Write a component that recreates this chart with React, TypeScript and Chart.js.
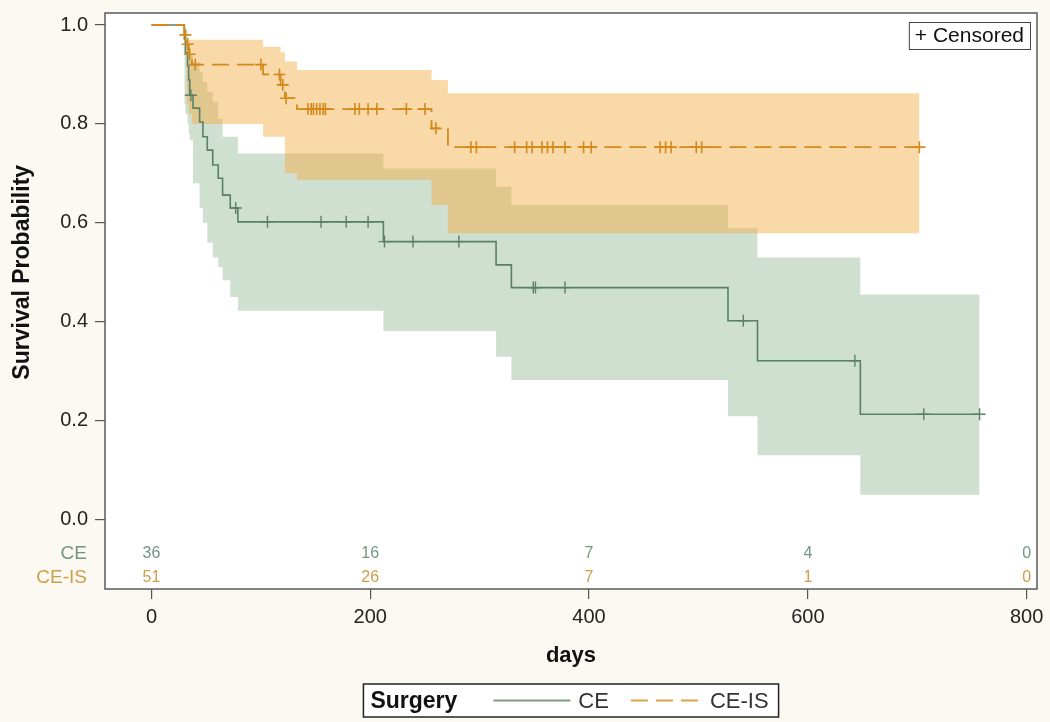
import React, { useEffect, useRef } from 'react';
import { Chart, registerables } from 'chart.js';

Chart.register(...registerables);

// ---------- data ----------
const ceTimes = [0, 30, 31, 33, 34, 35, 38, 44, 47, 51, 56, 61, 65, 72, 79, 212, 315, 329, 527, 554, 648, 757];
const ceSurvival = [1.0, 0.972, 0.944, 0.917, 0.889, 0.858, 0.832, 0.804, 0.774, 0.747, 0.717, 0.69, 0.656, 0.63, 0.602, 0.562, 0.515, 0.469, 0.402, 0.321, 0.213, 0.213];
const ceBandTimes = [30, 31, 33, 34, 35, 38, 44, 47, 51, 56, 61, 65, 72, 79, 212, 315, 329, 527, 554, 648, 757];
const ceUpper = [0.996, 0.99, 0.975, 0.96, 0.94, 0.925, 0.905, 0.885, 0.865, 0.845, 0.81, 0.774, 0.774, 0.74, 0.71, 0.673, 0.636, 0.589, 0.53, 0.455, 0.455];
const ceLower = [0.84, 0.82, 0.8, 0.78, 0.767, 0.68, 0.63, 0.6, 0.56, 0.53, 0.51, 0.484, 0.45, 0.422, 0.381, 0.329, 0.282, 0.209, 0.13, 0.05, 0.05];
const ceCensored = [36, 77, 106, 155, 178, 198, 213, 239, 281, 349, 351, 378, 541, 643, 706, 757];

const ceisTimes = [0, 30, 32, 34, 37, 102, 118, 122, 133, 256, 271, 702];
const ceisSurvival = [1.0, 0.98, 0.961, 0.941, 0.92, 0.9, 0.879, 0.852, 0.83, 0.791, 0.753, 0.753];
const ceisBandTimes = [32, 34, 37, 102, 118, 122, 133, 256, 271, 702];
const ceisUpper = [0.97, 0.97, 0.97, 0.956, 0.945, 0.926, 0.909, 0.889, 0.862, 0.862];
const ceisLower = [0.84, 0.82, 0.8, 0.774, 0.774, 0.7, 0.687, 0.636, 0.579, 0.579];
const ceisCensored = [31, 33, 35, 40, 100, 117, 120, 123, 143, 146, 148, 151, 154, 157, 159, 186, 190, 198, 206, 233, 250, 260, 292, 297, 332, 343, 348, 357, 362, 367, 378, 395, 402, 465, 470, 475, 498, 503, 702];

const riskTimes = [0, 200, 400, 600, 800];
const ceAtRisk = [36, 16, 7, 4, 0];
const ceisAtRisk = [51, 26, 7, 1, 0];

const xTicks = [0, 200, 400, 600, 800];
const yTicks = [0, 0.2, 0.4, 0.6, 0.8, 1.0];

const groupNames = ['CE', 'CE-IS'];
const legendTitle = 'Surgery';
const xTitle = 'days';
const yTitle = 'Survival Probability';
const censorLabel = '+ Censored';

// ---------- styles ----------
const BG = '#fcf9f2';
const FONT = '"Liberation Sans", Arial, sans-serif';
const CE_LINE = '#5b8066';
const CEIS_LINE = '#d4891c';
const CE_BAND = '#cfdfd0';
const CEIS_BAND = 'rgba(244,169,57,0.44)';
const CE_TEXT = '#72967f';
const CEIS_TEXT = '#cc9e48';

const pts = (xs: number[], ys: number[]) => xs.map((x, i) => ({ x, y: ys[i] }));
const survAt = (times: number[], surv: number[], t: number) => {
  let v = surv[0];
  for (let i = 0; i < times.length; i++) if (times[i] <= t) v = surv[i];
  return v;
};

const extras = {
  id: 'kmExtras',
  beforeDraw(chart: any) {
    const { ctx, chartArea: a, width, height } = chart;
    ctx.save();
    ctx.fillStyle = BG;
    ctx.fillRect(0, 0, width, height);
    ctx.fillStyle = '#ffffff';
    ctx.fillRect(a.left, a.top, a.right - a.left, a.bottom - a.top);
    ctx.restore();
  },
  afterDraw(chart: any) {
    const { ctx, chartArea: a } = chart;
    const xs = chart.scales.x;
    const ys = chart.scales.y;
    ctx.save();
    // frame
    ctx.strokeStyle = '#5a5a5a';
    ctx.lineWidth = 1.5;
    ctx.strokeRect(a.left, a.top, a.right - a.left, a.bottom - a.top);

    // at-risk table
    const row1 = a.bottom - 35;
    const row2 = a.bottom - 11;
    ctx.textBaseline = 'middle';
    ctx.font = `16px ${FONT}`;
    ctx.textAlign = 'center';
    riskTimes.forEach((t, i) => {
      const px = xs.getPixelForValue(t);
      ctx.fillStyle = CE_TEXT;
      ctx.fillText(String(ceAtRisk[i]), px, row1);
      ctx.fillStyle = CEIS_TEXT;
      ctx.fillText(String(ceisAtRisk[i]), px, row2);
    });
    ctx.font = `19px ${FONT}`;
    ctx.textAlign = 'right';
    ctx.fillStyle = CE_TEXT;
    ctx.fillText(groupNames[0], a.left - 18, row1);
    ctx.fillStyle = CEIS_TEXT;
    ctx.fillText(groupNames[1], a.left - 18, row2);

    // censored box
    ctx.font = `21px ${FONT}`;
    const cw = ctx.measureText(censorLabel).width + 12;
    const cx = a.right - 7 - cw;
    const cy = a.top + 9;
    ctx.fillStyle = '#ffffff';
    ctx.fillRect(cx, cy, cw, 27);
    ctx.strokeStyle = '#444';
    ctx.lineWidth = 1;
    ctx.strokeRect(cx + 0.5, cy + 0.5, cw, 27);
    ctx.fillStyle = '#111';
    ctx.textAlign = 'left';
    ctx.fillText(censorLabel, cx + 6, cy + 14.5);

    // axis titles
    ctx.font = `bold 22px ${FONT}`;
    ctx.fillStyle = '#111';
    ctx.textAlign = 'center';
    ctx.fillText(xTitle, (a.left + a.right) / 2, a.bottom + 67);
    ctx.save();
    ctx.font = `bold 23px ${FONT}`;
    ctx.translate(23, ys.getPixelForValue(0.5));
    ctx.rotate(-Math.PI / 2);
    ctx.fillText(yTitle, 0, 0);
    ctx.restore();

    // legend
    const titleFont = `bold 23px ${FONT}`;
    const entryFont = `22px ${FONT}`;
    ctx.font = titleFont;
    const wTitle = ctx.measureText(legendTitle).width;
    ctx.font = entryFont;
    const w1 = ctx.measureText(groupNames[0]).width;
    const w2 = ctx.measureText(groupNames[1]).width;
    const lineLen1 = 77;
    const lineLen2 = 71;
    const total = 7 + wTitle + 36 + lineLen1 + 8 + w1 + 22 + lineLen2 + 8 + w2 + 10;
    const lx = (a.left + a.right) / 2 - total / 2;
    const ly = a.bottom + 95;
    const lh = 33;
    const mid = ly + lh / 2;
    ctx.fillStyle = '#ffffff';
    ctx.fillRect(lx, ly, total, lh);
    ctx.strokeStyle = '#222';
    ctx.lineWidth = 1.5;
    ctx.strokeRect(lx, ly, total, lh);
    let cur = lx + 7;
    ctx.textAlign = 'left';
    ctx.fillStyle = '#111';
    ctx.font = titleFont;
    ctx.fillText(legendTitle, cur, mid + 1);
    cur += wTitle + 36;
    ctx.strokeStyle = '#7c9c86';
    ctx.lineWidth = 2;
    ctx.beginPath();
    ctx.moveTo(cur, mid);
    ctx.lineTo(cur + lineLen1, mid);
    ctx.stroke();
    cur += lineLen1 + 8;
    ctx.font = entryFont;
    ctx.fillStyle = '#333';
    ctx.fillText(groupNames[0], cur, mid + 1);
    cur += w1 + 22;
    ctx.strokeStyle = '#dca24c';
    ctx.setLineDash([17, 8]);
    ctx.beginPath();
    ctx.moveTo(cur, mid);
    ctx.lineTo(cur + lineLen2, mid);
    ctx.stroke();
    ctx.setLineDash([]);
    cur += lineLen2 + 8;
    ctx.fillText(groupNames[1], cur, mid + 1);
    ctx.restore();
  },
};

export default function App() {
  const ref = useRef<HTMLCanvasElement | null>(null);

  useEffect(() => {
    if (!ref.current) return;
    const tickFont = { family: FONT, size: 20 };
    const chart = new Chart(ref.current, {
      type: 'line',
      data: {
        datasets: [
          {
            label: 'CE upper',
            data: pts(ceBandTimes, ceUpper),
            stepped: 'before',
            fill: '+1',
            backgroundColor: CE_BAND,
            borderWidth: 0,
            pointRadius: 0,
            order: 10,
          },
          {
            label: 'CE lower',
            data: pts(ceBandTimes, ceLower),
            stepped: 'before',
            fill: false,
            borderWidth: 0,
            pointRadius: 0,
            order: 10,
          },
          {
            label: 'CE-IS upper',
            data: pts(ceisBandTimes, ceisUpper),
            stepped: 'before',
            fill: '+1',
            backgroundColor: CEIS_BAND,
            borderWidth: 0,
            pointRadius: 0,
            order: 9,
          },
          {
            label: 'CE-IS lower',
            data: pts(ceisBandTimes, ceisLower),
            stepped: 'before',
            fill: false,
            borderWidth: 0,
            pointRadius: 0,
            order: 9,
          },
          {
            label: groupNames[0],
            data: pts(ceTimes, ceSurvival),
            stepped: 'before',
            borderColor: CE_LINE,
            borderWidth: 1.6,
            pointRadius: 0,
            fill: false,
            order: 3,
          },
          {
            label: groupNames[1],
            data: pts(ceisTimes, ceisSurvival),
            stepped: 'before',
            borderColor: CEIS_LINE,
            borderWidth: 1.8,
            borderDash: [17, 8],
            pointRadius: 0,
            fill: false,
            order: 2,
          },
          {
            label: 'CE censored',
            data: ceCensored.map((t) => ({ x: t, y: survAt(ceTimes, ceSurvival, t) })),
            showLine: false,
            pointStyle: 'cross',
            pointRadius: 6,
            pointBorderWidth: 1.4,
            borderColor: CE_LINE,
            pointBorderColor: CE_LINE,
            order: 1,
          },
          {
            label: 'CE-IS censored',
            data: ceisCensored.map((t) => ({ x: t, y: survAt(ceisTimes, ceisSurvival, t) })),
            showLine: false,
            pointStyle: 'cross',
            pointRadius: 6,
            pointBorderWidth: 1.6,
            borderColor: CEIS_LINE,
            pointBorderColor: CEIS_LINE,
            order: 0,
          },
        ],
      },
      options: {
        animation: false,
        responsive: false,
        devicePixelRatio: 1,
        events: [],
        layout: { padding: { top: 13, right: 13, bottom: 0, left: 0 } },
        plugins: {
          legend: { display: false },
          tooltip: { enabled: false },
          title: { display: false },
        },
        scales: {
          x: {
            type: 'linear',
            min: -42.5,
            max: 809.5,
            afterBuildTicks: (s: any) => {
              s.ticks = xTicks.map((v) => ({ value: v }));
            },
            afterFit: (s: any) => {
              s.height = 133;
              s.paddingLeft = 0;
              s.paddingRight = 0;
            },
            grid: { drawOnChartArea: false, drawTicks: true, tickLength: 10, color: '#555', lineWidth: 1.2 },
            border: { display: false },
            ticks: {
              font: tickFont,
              color: '#222',
              padding: 6,
              maxRotation: 0,
              autoSkip: false,
              callback: (v: any) => String(v),
            },
          },
          y: {
            type: 'linear',
            min: -0.1405,
            max: 1.0243,
            afterBuildTicks: (s: any) => {
              s.ticks = yTicks.map((v) => ({ value: v }));
            },
            afterFit: (s: any) => {
              s.width = 105;
              s.paddingTop = 0;
              s.paddingBottom = 0;
            },
            grid: { drawOnChartArea: false, drawTicks: true, tickLength: 10, color: '#555', lineWidth: 1.2 },
            border: { display: false },
            ticks: {
              font: tickFont,
              color: '#222',
              padding: 7,
              autoSkip: false,
              callback: (v: any) => Number(v).toFixed(1),
            },
          },
        },
      },
      plugins: [extras],
    } as any);
    return () => chart.destroy();
  }, []);

  return (
    <div style={{ position: 'fixed', left: 0, top: 0, width: 1050, height: 722, background: BG }}>
      <canvas ref={ref} width={1050} height={722} style={{ display: 'block' }} />
    </div>
  );
}
